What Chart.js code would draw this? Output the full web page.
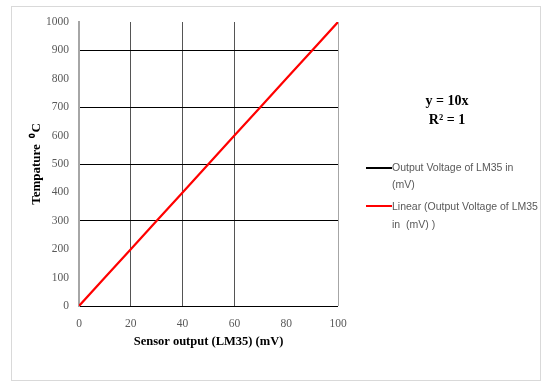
<!DOCTYPE html>
<html><head><meta charset="utf-8">
<script src="https://cdn.jsdelivr.net/npm/chart.js@4.4.1/dist/chart.umd.min.js"></script>
<style>html,body{margin:0;padding:0;background:#fff;}#wrap{width:544px;height:385px;position:relative;}</style>
</head><body><div id="wrap"><canvas id="c" width="544" height="385"></canvas></div>
<script>
const sensorMv = [0, 10, 20, 30, 40, 50, 60, 70, 80, 90, 100];
const temperatureC = [0, 100, 200, 300, 400, 500, 600, 700, 800, 900, 1000];
const trendY = [0, 100, 200, 300, 400, 500, 600, 700, 800, 900, 1000];
const seriesName = ['Output Voltage of LM35 in', '(mV)'];
const trendName = ['Linear (Output Voltage of LM35', 'in  (mV) )'];
const equation = ['y = 10x', 'R² = 1'];
const xTitle = 'Sensor output (LM35) (mV)';
const yTitle = 'Tempature  ⁰C';

const pts = (xs, ys) => xs.map((x, i) => ({x, y: ys[i]}));

const decor = {
  id: 'decor',
  beforeDraw(chart) {
    const ctx = chart.ctx;
    ctx.save();
    ctx.fillStyle = '#fff';
    ctx.fillRect(0, 0, chart.width, chart.height);
    ctx.strokeStyle = '#d9d9d9';
    ctx.lineWidth = 1;
    ctx.strokeRect(11.5, 6.5, 529, 374);
    ctx.restore();
  },
  afterDraw(chart) {
    const ctx = chart.ctx;
    ctx.save();
    ctx.fillStyle = '#000';
    ctx.font = 'bold 14px "Liberation Serif"';
    ctx.textAlign = 'center';
    ctx.textBaseline = 'middle';
    ctx.fillText(equation[0], 447, 101);
    ctx.fillText(equation[1], 447, 120);
    // legend
    ctx.lineWidth = 2;
    ctx.strokeStyle = '#000';
    ctx.beginPath(); ctx.moveTo(366, 168); ctx.lineTo(392, 168); ctx.stroke();
    ctx.strokeStyle = '#ff0000';
    ctx.beginPath(); ctx.moveTo(366, 206); ctx.lineTo(392, 206); ctx.stroke();
    ctx.fillStyle = '#595959';
    ctx.font = '10.5px "Liberation Sans"';
    ctx.textAlign = 'left';
    ctx.fillText(seriesName[0], 392, 168);
    ctx.fillText(seriesName[1], 392, 185);
    ctx.fillText(trendName[0], 392, 207);
    ctx.fillText(trendName[1], 392, 225);
    ctx.restore();
  }
};

new Chart(document.getElementById('c'), {
  type: 'scatter',
  data: {
    datasets: [
      {label: seriesName.join(' '), data: pts(sensorMv, temperatureC), showLine: true, borderColor: '#000', borderWidth: 1, pointRadius: 0, order: 2},
      {label: trendName.join(' '), data: pts(sensorMv, trendY), showLine: true, borderColor: '#ff0000', borderWidth: 2.2, pointRadius: 0, order: 1}
    ]
  },
  options: {
    responsive: false,
    animation: false,
    layout: {padding: {left: 29, right: 206, top: 22, bottom: 36}},
    plugins: {legend: {display: false}, tooltip: {enabled: false}},
    scales: {
      x: {
        type: 'linear', min: 0, max: 100,
        ticks: {stepSize: 20, color: '#595959', font: {family: '"Liberation Serif"', size: 11.5}, padding: 11, maxRotation: 0, callback: v => String(v)},
        grid: {
          drawTicks: false,
          lineWidth: 1,
          color: c => {
            const v = c.tick ? c.tick.value : null;
            if (v === 0 || v === 100) return '#a6a6a6';
            if (v === 80) return 'rgba(0,0,0,0)';
            return '#555555';
          }
        },
        border: {display: false},
        title: {display: true, text: xTitle, color: '#000', font: {family: '"Liberation Serif"', size: 12.5, weight: 'bold'}, padding: 0},
        afterFit: s => { s.height = 43; }
      },
      y: {
        type: 'linear', min: 0, max: 1000,
        ticks: {stepSize: 100, color: '#595959', font: {family: '"Liberation Serif"', size: 11.5}, padding: 10, callback: v => String(v)},
        grid: {
          drawTicks: false,
          lineWidth: 1,
          color: c => {
            const v = c.tick ? c.tick.value : null;
            if (v === 0 || v === 300 || v === 500 || v === 700 || v === 900) return '#000';
            return 'rgba(0,0,0,0)';
          }
        },
        border: {display: true, color: '#a6a6a6', width: 2},
        title: {display: true, text: yTitle, color: '#000', font: {family: '"Liberation Serif"', size: 13, weight: 'bold'}, padding: 0},
        afterFit: s => { s.width = 50; }
      }
    }
  },
  plugins: [decor]
});
</script></body></html>
